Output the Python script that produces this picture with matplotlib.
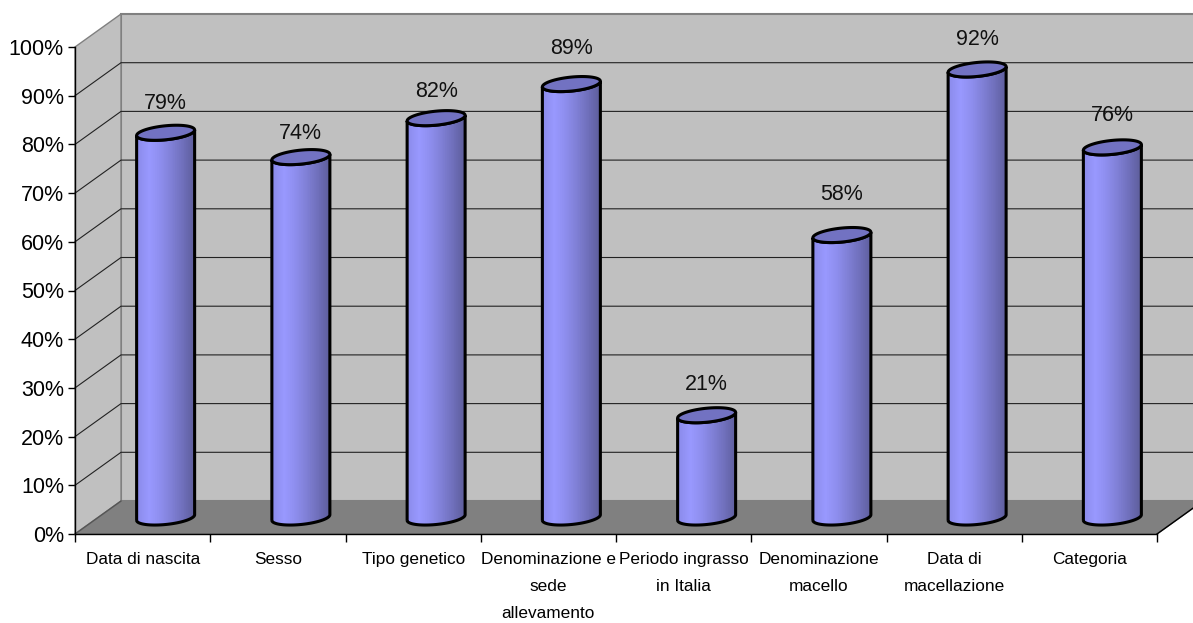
import numpy as np
import matplotlib
matplotlib.use('Agg')
import matplotlib.pyplot as plt
from matplotlib.path import Path
from matplotlib.patches import PathPatch, Polygon
from matplotlib.colors import LinearSegmentedColormap

categories = ['Data di nascita', 'Sesso', 'Tipo genetico',
              'Denominazione e\nsede\nallevamento', 'Periodo ingrasso\nin Italia',
              'Denominazione\nmacello', 'Data di\nmacellazione', 'Categoria']
values = [79, 74, 82, 89, 21, 58, 92, 76]
y_ticks = [0, 10, 20, 30, 40, 50, 60, 70, 80, 90, 100]
y_labels = ['0%', '10%', '20%', '30%', '40%', '50%', '60%', '70%', '80%', '90%', '100%']

# how far each value label sits above its cylinder, pixels
label_gaps = [29, 24, 27, 36, 31, 41, 30, 32]

plt.rcParams['font.family'] = ['Liberation Sans', 'DejaVu Sans']

fig = plt.figure(figsize=(11.93, 6.23), dpi=100)
ax = fig.add_axes([75 / 1193, (623 - 534) / 623, 1082 / 1193, 487 / 623])

# depth of the fake 3d box in data units
DX = 46 / 135.25
DY = 33 / 4.87
n = len(categories)

ax.add_patch(Polygon([(0, 0), (DX, DY), (n + DX, DY), (n, 0)], fc='#808080', ec='#707070', lw=1, clip_on=False, zorder=1))
ax.add_patch(Polygon([(DX, DY), (DX, 100 + DY), (n + DX, 100 + DY), (n + DX, DY)], fc='#c0c0c0', ec='#808080', lw=1.5, clip_on=False, zorder=1))
ax.add_patch(Polygon([(0, 0), (DX, DY), (DX, 100 + DY), (0, 100)], fc='#c0c0c0', ec='#808080', lw=1, clip_on=False, zorder=1))

for t in y_ticks[1:-1]:
    ax.plot([0, DX, n + DX], [t, t + DY, t + DY], color='#222222', lw=0.8, clip_on=False, zorder=2)
ax.plot([n, n + DX], [0, DY], color='black', lw=1, clip_on=False, zorder=2)
ax.plot([0, DX], [0, DY], color='#555555', lw=1, clip_on=False, zorder=2)

cyl_cmap = LinearSegmentedColormap.from_list('cyl', ['#8c8cec', '#9999ff', '#8e8eee', '#8080d6', '#7070bc', '#5f5f9e'])
A = 29 / 135.25
B = 7 / 4.87
TILT = 2.8 / 4.87
t_back = np.linspace(np.pi, 2 * np.pi, 60)
t_all = np.linspace(0, 2 * np.pi, 120)

for i, v in enumerate(values):
    cx = i + 0.5 + DX / 2
    base = DY / 2

    xs = cx + A * np.cos(t_back)
    y_low = base + B * np.sin(t_back) + TILT * np.cos(t_back)
    y_top = v + base + B * np.sin(t_back[::-1]) + TILT * np.cos(t_back[::-1])
    pts = np.vstack([np.column_stack([xs, y_low]), np.column_stack([xs[::-1], y_top])])
    side = PathPatch(Path(np.vstack([pts, pts[0]])), fc='none', ec='black', lw=2.2, clip_on=False, zorder=5)
    ax.add_patch(side)

    # banded shading across the cylinder
    grad = np.linspace(0, 1, 26).reshape(1, -1)
    im = ax.imshow(grad, cmap=cyl_cmap, aspect='auto', zorder=4,
                   extent=[cx - A, cx + A, base - B - 1, v + base + B + 1])
    im.set_clip_path(PathPatch(Path(np.vstack([pts, pts[0]])), transform=ax.transData))

    top = np.column_stack([cx + A * np.cos(t_all), v + base + B * np.sin(t_all) + TILT * np.cos(t_all)])
    ax.add_patch(Polygon(top, fc='#7272c2', ec='black', lw=2.2, clip_on=False, zorder=6))

    ax.annotate(f'{v}%', (cx, v + base), xytext=(0, label_gaps[i] * 0.72), textcoords='offset points',
                ha='center', va='center', fontsize=15.5, color='#111111', zorder=7)

ax.set_xlim(0, n)
ax.set_ylim(0, 100)
ax.patch.set_visible(False)
for name in ['top', 'right']:
    ax.spines[name].set_visible(False)
for name in ['left', 'bottom']:
    ax.spines[name].set_zorder(3)
    ax.spines[name].set_linewidth(1)

ax.set_yticks(y_ticks)
ax.set_yticklabels(y_labels, fontsize=15.5)
ax.tick_params(axis='y', length=5, width=1, pad=3)
ax.set_xticks(np.arange(n + 1))
ax.set_xticklabels([])
ax.tick_params(axis='x', which='major', length=6, width=1)
ax.set_xticks(np.arange(n) + 0.5, minor=True)
ax.set_xticklabels(categories, minor=True, fontsize=12.4, linespacing=1.98, va='top')
ax.tick_params(axis='x', which='minor', length=0, pad=13)

fig.savefig('out.png', dpi=100)
